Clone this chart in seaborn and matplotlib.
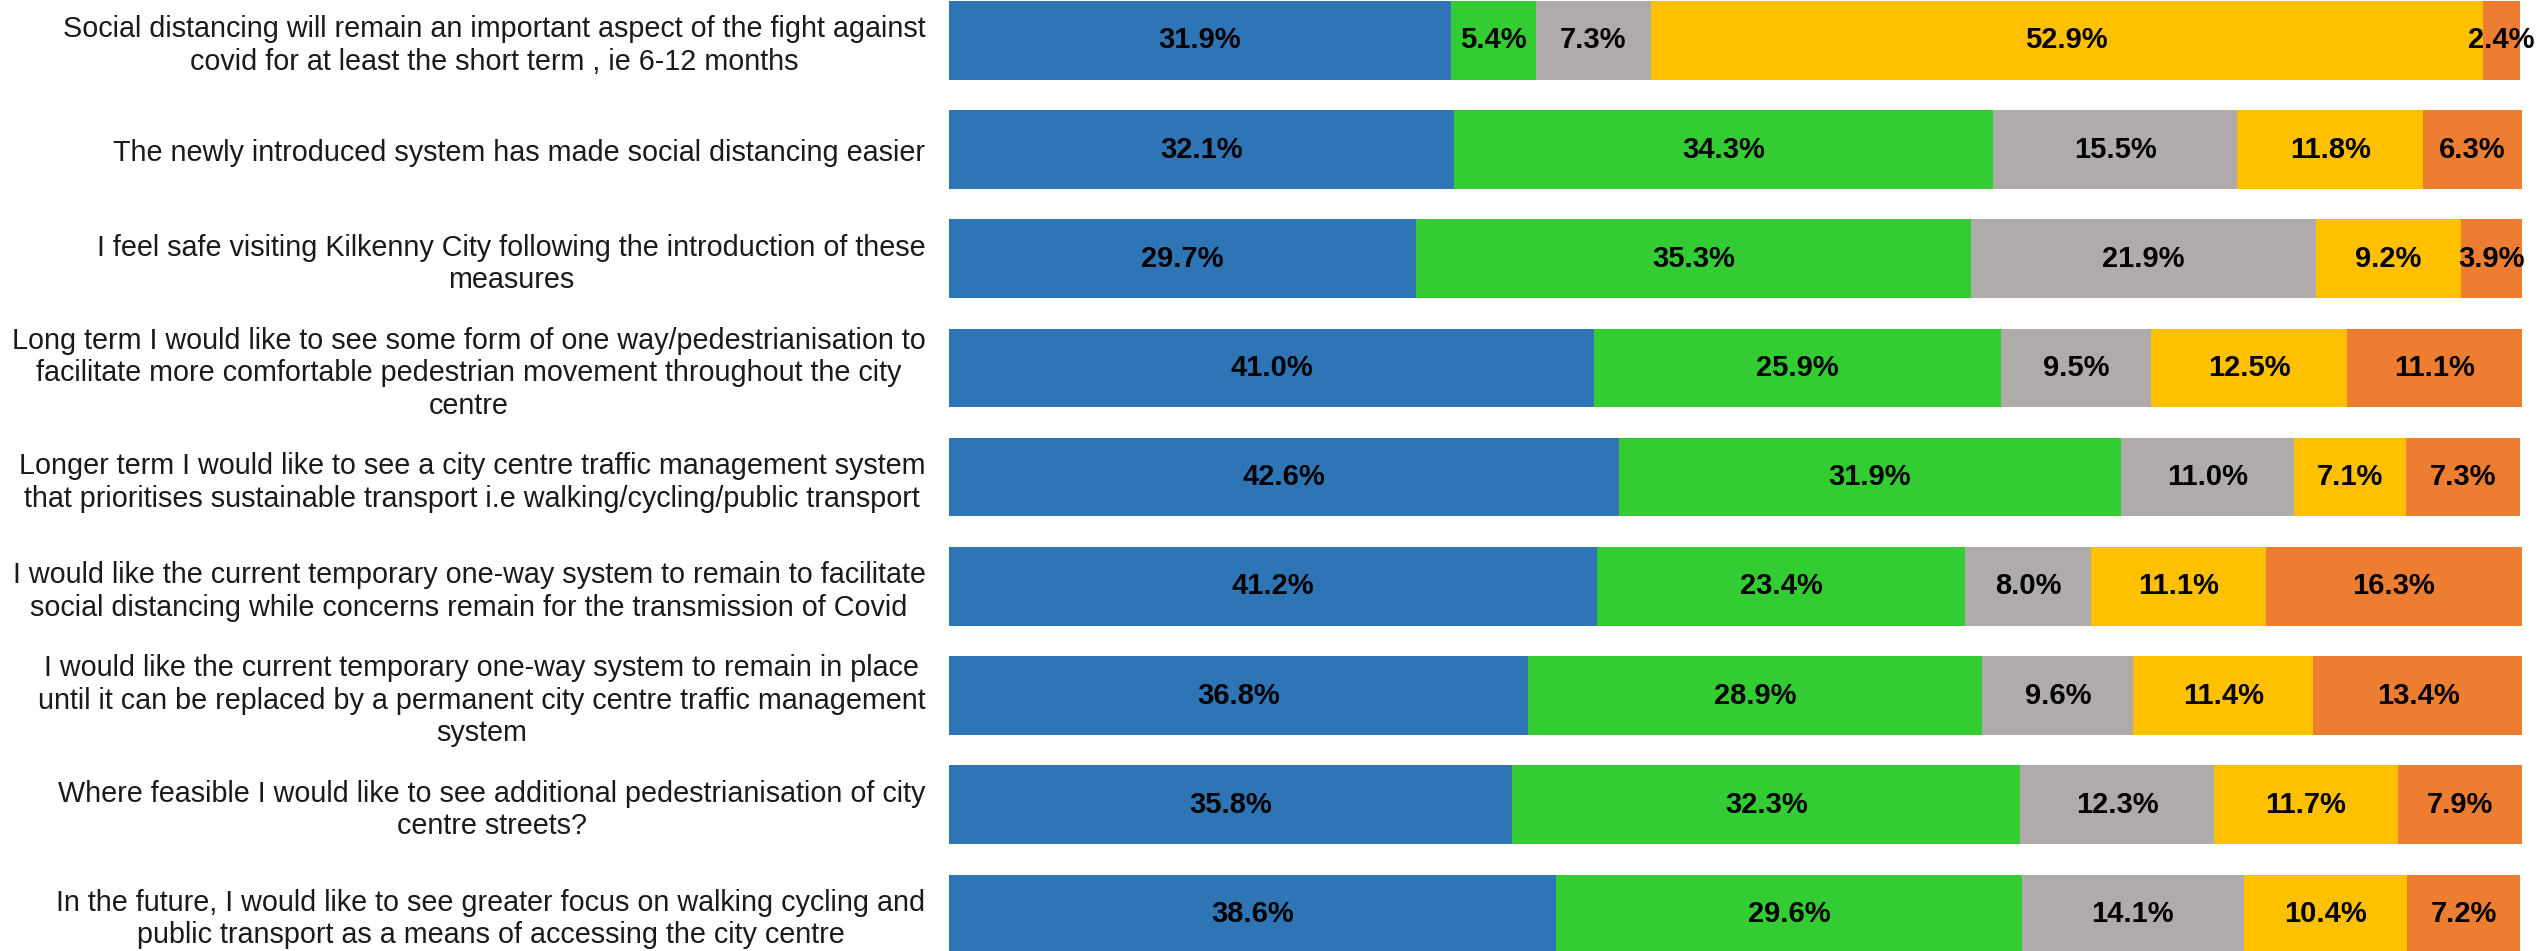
import numpy as np
import pandas as pd
import matplotlib
matplotlib.use("Agg")
import matplotlib.pyplot as plt
import seaborn as sns

sns.set_theme(style="white")
plt.rcParams["font.family"] = ["Liberation Sans", "DejaVu Sans"]

questions = [
    "Social distancing will remain an important aspect of the fight against\ncovid for at least the short term , ie 6-12 months",
    "The newly introduced system has made social distancing easier",
    "I feel safe visiting Kilkenny City following the introduction of these\nmeasures",
    "Long term I would like to see some form of one way/pedestrianisation to\nfacilitate more comfortable pedestrian movement throughout the city\ncentre",
    "Longer term I would like to see a city centre traffic management system\nthat prioritises sustainable transport i.e walking/cycling/public transport",
    "I would like the current temporary one-way system to remain to facilitate\nsocial distancing while concerns remain for the transmission of Covid",
    "I would like the current temporary one-way system to remain in place\nuntil it can be replaced by a permanent city centre traffic management\nsystem",
    "Where feasible I would like to see additional pedestrianisation of city\ncentre streets?",
    "In the future, I would like to see greater focus on walking cycling and\npublic transport as a means of accessing the city centre",
]

responses = ["Strongly agree", "Agree", "Neutral", "Disagree", "Strongly disagree"]
colors = ["#2E75B6", "#33CC33", "#AFABAB", "#FFC000", "#ED7D31"]

strongly_agree = [31.9, 32.1, 29.7, 41.0, 42.6, 41.2, 36.8, 35.8, 38.6]
agree = [5.4, 34.3, 35.3, 25.9, 31.9, 23.4, 28.9, 32.3, 29.6]
neutral = [7.3, 15.5, 21.9, 9.5, 11.0, 8.0, 9.6, 12.3, 14.1]
disagree = [52.9, 11.8, 9.2, 12.5, 7.1, 11.1, 11.4, 11.7, 10.4]
strongly_disagree = [2.4, 6.3, 3.9, 11.1, 7.3, 16.3, 13.4, 7.9, 7.2]

df = pd.DataFrame({
    "question": questions,
    responses[0]: strongly_agree,
    responses[1]: agree,
    responses[2]: neutral,
    responses[3]: disagree,
    responses[4]: strongly_disagree,
})
cum = df[responses].cumsum(axis=1)

fig = plt.figure(figsize=(25.44, 9.51), dpi=100)
ax = fig.add_axes([949 / 2544, 0, (2522 - 949) / 2544, 1])

# stacked bars: draw cumulative totals from the last segment back to the first
for resp, col in reversed(list(zip(responses, colors))):
    sns.barplot(x=cum[resp], y=df["question"], orient="h", color=col,
                width=0.72, linewidth=0, saturation=1, ax=ax)

for i, row in df.iterrows():
    for resp in responses:
        v = row[resp]
        center = cum.loc[i, resp] - v / 2
        ax.text(center, i, f"{v:.1f}%", ha="center", va="center",
                fontsize=21, fontweight="bold", color="black", clip_on=False)

ax.set_xlim(0, 100)
ax.set_ylim(8.34, -0.37)
ax.set_xlabel("")
ax.set_ylabel("")
ax.set_xticks([])
ax.tick_params(axis="y", length=0, pad=17, labelsize=20.7, colors="#1a1a1a")
for lbl in ax.get_yticklabels():
    lbl.set_multialignment("center")
sns.despine(ax=ax, left=True, bottom=True)

plt.savefig("out.png", dpi=100)
plt.close()
